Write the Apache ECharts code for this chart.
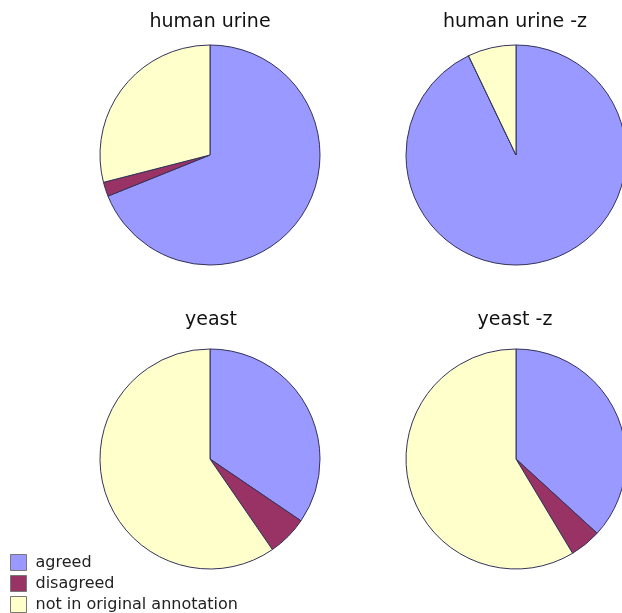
<!DOCTYPE html>
<html>
<head>
<meta charset="utf-8">
<script src="https://cdn.jsdelivr.net/npm/echarts@6/dist/echarts.min.js"></script>
<style>
  html, body { margin: 0; padding: 0; background: #fff; }
  #chart { width: 622px; height: 613px; }
</style>
</head>
<body>
<div id="chart"></div>
<script>
// categories (legend)
var categories = ['agreed', 'disagreed', 'not in original annotation'];
var colors = ['#9999ff', '#993366', '#ffffcc'];

// panel titles
var panelTitles = ['human urine', 'human urine -z', 'yeast', 'yeast -z'];

// values per panel (percent)
var humanUrine  = [68.9, 2.1, 29.0];
var humanUrineZ = [92.9, 0, 7.1];
var yeast       = [34.5, 5.9, 59.6];
var yeastZ      = [36.8, 4.6, 58.6];

var panelValues = [humanUrine, humanUrineZ, yeast, yeastZ];
var centers = [[210, 155], [516, 155], [210, 459], [516, 459]];
var titlePos = [[205, 8], [510, 8], [206, 306], [510, 306]];

var chart = echarts.init(document.getElementById('chart'));

var titles = panelTitles.map(function (t, i) {
  return {
    text: t,
    left: titlePos[i][0],
    top: titlePos[i][1],
    textAlign: 'center',
    textStyle: {
      fontFamily: 'DejaVu Sans',
      fontSize: 19,
      fontWeight: 'normal',
      color: '#111'
    }
  };
});

var series = panelValues.map(function (vals, i) {
  return {
    type: 'pie',
    name: panelTitles[i],
    center: centers[i],
    radius: 110,
    startAngle: 90,
    clockwise: true,
    label: { show: false },
    labelLine: { show: false },
    emphasis: { disabled: true },
    itemStyle: { borderColor: '#33335a', borderWidth: 1 },
    data: categories.map(function (c, k) {
      return { name: c, value: vals[k], itemStyle: { color: colors[k] } };
    })
  };
});

var option = {
  backgroundColor: '#fff',
  animation: false,
  color: colors,
  title: titles,
  legend: {
    data: categories,
    orient: 'vertical',
    left: 10,
    top: 554,
    height: 60,
    padding: 0,
    itemWidth: 16,
    itemHeight: 16,
    itemGap: 4,
    icon: 'rect',
    selectedMode: false,
    itemStyle: { borderColor: '#777', borderWidth: 1 },
    textStyle: {
      fontFamily: 'DejaVu Sans',
      fontSize: 16,
      color: '#222',
      padding: [0, 0, 0, 4]
    }
  },
  series: series
};

chart.setOption(option);
</script>
</body>
</html>
